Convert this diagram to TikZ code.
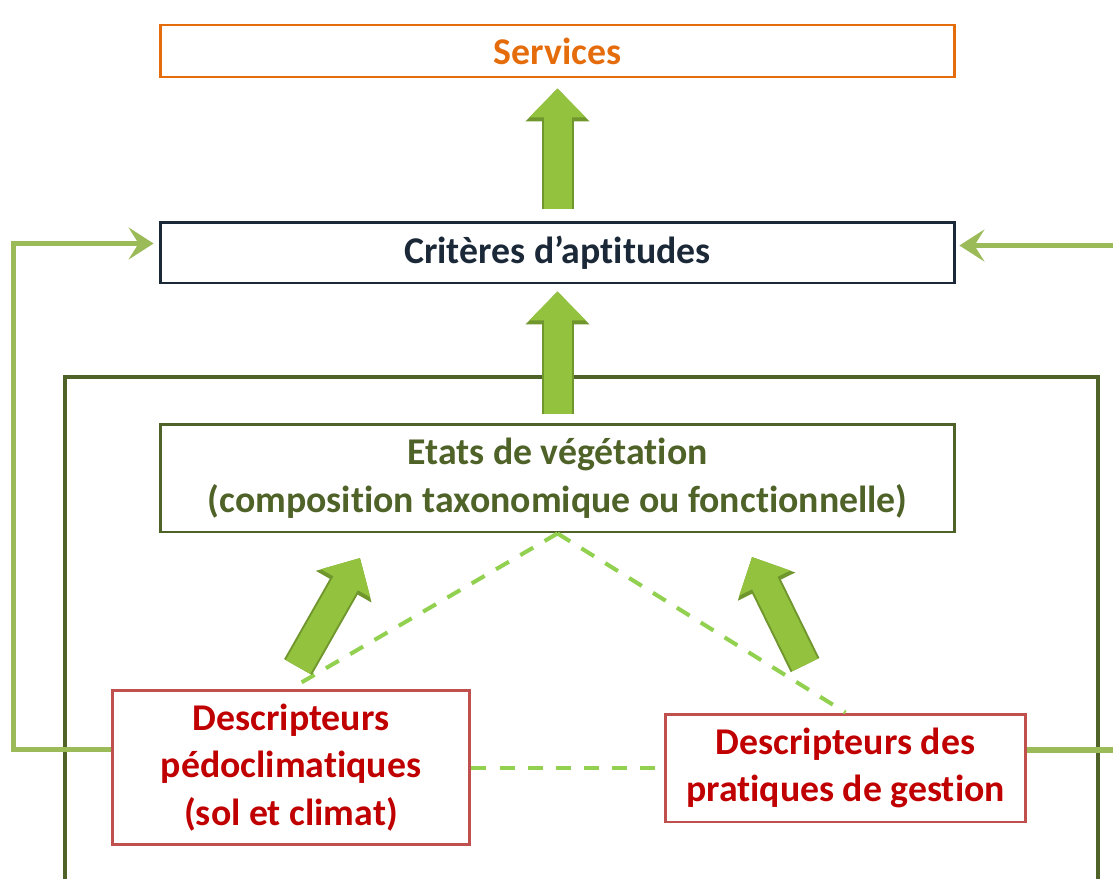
\documentclass[tikz,border=0pt]{standalone}
\usepackage{fontspec}
\setmainfont{Carlito}[Ligatures=NoCommon]
\usetikzlibrary{arrows.meta,calc,positioning}
\definecolor{S}{RGB}{228,108,10}
\definecolor{N}{RGB}{27,40,56}
\definecolor{O}{RGB}{79,98,40}
\definecolor{R}{RGB}{192,0,0}
\definecolor{RB}{RGB}{192,80,77}
\definecolor{F}{RGB}{155,187,89}
\definecolor{D}{RGB}{146,208,80}
\definecolor{G}{RGB}{146,194,62}
\definecolor{GE}{RGB}{112,150,46}
\tikzstyle{box} = [draw, line width=1.7pt, minimum width=15.9cm, align=center,
font=\fontsize{21.5}{27}\selectfont\bfseries]
\tikzstyle{desc} = [box, draw=RB, text=R]
\tikzstyle{fatedge} = [GE, line width=0.64cm, -{Triangle[length=0.66cm,width=1.24cm]}]
\tikzstyle{fat} = [G, line width=0.56cm, -{Triangle[length=0.58cm,width=1.1cm]}]
\tikzstyle{back} = [F, line width=3.2pt, -{Stealth[length=0.5cm,width=0.64cm,inset=0.2cm]}]
\tikzstyle{link} = [D, line width=2.3pt, dash pattern=on 8.5pt off 7.5pt]

\begin{document}
\begin{tikzpicture}[
    x=0.02cm, y=-0.02cm, % one unit is one pixel of the drawing
  ]
    \useasboundingbox (0,0) rectangle (1113,879);

    \node[box, draw=S, text=S, minimum height=1.04cm] (serv)  at (557.5,51)  {Services};
    \node[box, draw=N, text=N, minimum height=1.22cm] (crit)  at (557.5,252.5) {Critères d’aptitudes};
    \node[box, draw=O, text=O, minimum height=2.16cm] (etats) at (557.5,478)
        {Etats de végétation\\(composition taxonomique ou fonctionnelle)};

    \node[desc, minimum width=7.16cm, minimum height=3.1cm]  (pedo) at (291,767.5)
        {Descripteurs\\pédoclimatiques\\(sol et climat)};
    \node[desc, minimum width=7.22cm, minimum height=2.16cm] (prat) at (845.5,768)
        {Descripteurs des\\pratiques de gestion};

    % the frame round the lower part
    \draw[O, line width=2.3pt] (65,890) |- (1098,377) -- (1098,890);

    % links between the states and the descriptors
    \draw[link] (etats.south) -- (pedo.north);
    \draw[link] (etats.south) -- (prat.north);
    \draw[link] (prat.west -| pedo.east) -- (prat.west);

    % big arrows, a dark edge under a light body
    \coordinate (la0) at (298,667);
    \coordinate (la1) at (360,558);
    \coordinate (ra0) at (805,665);
    \coordinate (ra1) at (752,557);
    \foreach \s in {fatedge,fat} {
      \draw[\s, shorten <=0.24cm, shorten >=0.2cm] (crit.north) -- (serv.south);
      \draw[\s, shorten <=0.18cm, shorten >=0.14cm] (etats.north) -- (crit.south);
      \draw[\s] (la0) -- (la1);
      \draw[\s] (ra0) -- (ra1);
    }

    % feedback to the criteria
    \draw[back, shorten >=0.1cm] ([yshift=0.36cm]pedo.west) -- ++(-1.94cm,0)
        |- ([yshift=0.18cm]crit.west);
    \draw[back, shorten >=0.06cm] ([yshift=0.36cm]prat.east) -- ++(2.2cm,0)
        |- ([yshift=0.14cm]crit.east);
  \end{tikzpicture}
\end{document}
